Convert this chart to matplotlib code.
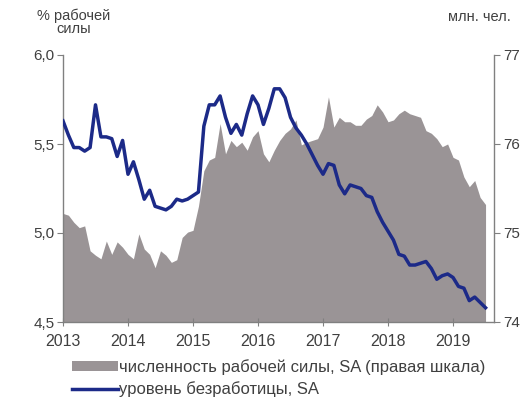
import matplotlib
matplotlib.use("Agg")
import matplotlib.pyplot as plt
import numpy as np
from matplotlib.patches import Patch
from matplotlib.lines import Line2D

plt.rcParams['font.family'] = ['Liberation Sans', 'DejaVu Sans']

# Monthly data, Jan 2013 .. Jul 2019
unemployment = [
    5.63, 5.55, 5.48, 5.48, 5.46, 5.48, 5.72, 5.54, 5.54, 5.53, 5.43, 5.52,
    5.33, 5.40, 5.30, 5.19, 5.24, 5.15, 5.14, 5.13, 5.15, 5.19, 5.18, 5.19,
    5.21, 5.23, 5.60, 5.72, 5.72, 5.77, 5.65, 5.56, 5.61, 5.55, 5.67, 5.77,
    5.72, 5.61, 5.70, 5.81, 5.81, 5.76, 5.65, 5.59, 5.55, 5.50, 5.44, 5.38,
    5.33, 5.39, 5.38, 5.27, 5.22, 5.27, 5.26, 5.25, 5.21, 5.20, 5.12, 5.06,
    5.01, 4.96, 4.88, 4.87, 4.82, 4.82, 4.83, 4.84, 4.80, 4.74, 4.76, 4.77,
    4.75, 4.70, 4.69, 4.62, 4.64, 4.61, 4.58,
]
labor_force = [
    75.22, 75.20, 75.12, 75.06, 75.08, 74.80, 74.75, 74.71, 74.91, 74.76, 74.90, 74.84,
    74.76, 74.71, 74.99, 74.82, 74.76, 74.61, 74.80, 74.75, 74.67, 74.70, 74.95, 75.01,
    75.03, 75.30, 75.70, 75.82, 75.85, 76.23, 75.89, 76.04, 75.97, 76.02, 75.93, 76.08,
    76.15, 75.89, 75.80, 75.93, 76.04, 76.12, 76.17, 76.27, 75.99, 76.02, 76.04, 76.06,
    76.19, 76.53, 76.19, 76.30, 76.25, 76.25, 76.21, 76.21, 76.28, 76.32, 76.44, 76.36,
    76.25, 76.27, 76.34, 76.38, 76.34, 76.32, 76.30, 76.15, 76.12, 76.06, 75.97, 76.00,
    75.85, 75.82, 75.63, 75.52, 75.59, 75.40, 75.32,
]
years = [2013, 2014, 2015, 2016, 2017, 2018, 2019]
left_ticks = [4.5, 5.0, 5.5, 6.0]
left_labels = ["4,5", "5,0", "5,5", "6,0"]
right_ticks = [74, 75, 76, 77]

t = 2013 + np.arange(len(unemployment)) / 12.0

GREY = "#9a9496"
BLUE = "#1c2a88"
TXT = "#404040"
AX = "#808080"

fig = plt.figure(figsize=(5.29, 4.0), dpi=100)
ax = fig.add_axes([63/529, 1-322/400, (494-63)/529, (322-55)/400])
ax2 = ax.twinx()

ax2.fill_between(t, 74, labor_force, color=GREY, linewidth=0, zorder=1)
ax2.set_ylim(74, 77)
ax.set_zorder(ax2.get_zorder() + 1)
ax.patch.set_visible(False)
ax.plot(t, unemployment, color=BLUE, lw=2.5, zorder=3)
ax.set_ylim(4.5, 6.0)
ax.set_xlim(2013, 2019.63)

ax.set_yticks(left_ticks)
ax.set_yticklabels(left_labels)
ax2.set_yticks(right_ticks)
ax2.set_yticklabels([str(v) for v in right_ticks])
ax.set_xticks(years)
ax.set_xticklabels([str(y) for y in years])

for a in (ax, ax2):
    for s in a.spines.values():
        s.set_color(AX)
        s.set_linewidth(1.0)
    a.spines['top'].set_visible(False)
ax.spines['right'].set_visible(False)
ax2.spines['left'].set_visible(False)
ax2.spines['bottom'].set_visible(False)

ax.tick_params(axis='y', direction='out', length=4, color=AX, labelcolor=TXT, labelsize=11, pad=2)
ax.tick_params(axis='x', direction='inout', length=6, color=AX, labelcolor=TXT, labelsize=11.5, pad=6)
ax2.tick_params(axis='y', direction='out', length=4, color=AX, labelcolor=TXT, labelsize=11, pad=3)

fig.text(74/529, 1-16/400, "% рабочей", ha='center', va='center', fontsize=10.5, color=TXT)
fig.text(74/529, 1-29/400, "силы", ha='center', va='center', fontsize=10.5, color=TXT)
fig.text(479/529, 1-17/400, "млн. чел.", ha='center', va='center', fontsize=10.5, color=TXT)

handles = [Patch(facecolor=GREY, edgecolor='none'),
           Line2D([0], [0], color=BLUE, lw=2.5)]
labels = ["численность рабочей силы, SA (правая шкала)", "уровень безработицы, SA"]
leg = fig.legend(handles, labels, loc='upper left', bbox_to_anchor=(72/529, 1-359/400),
                 frameon=False, fontsize=12, handlelength=2.75, handleheight=0.5,
                 handletextpad=0.05, labelspacing=0.38, borderaxespad=0, borderpad=0)
for txt in leg.get_texts():
    txt.set_color(TXT)

fig.savefig("out.png", dpi=100)
